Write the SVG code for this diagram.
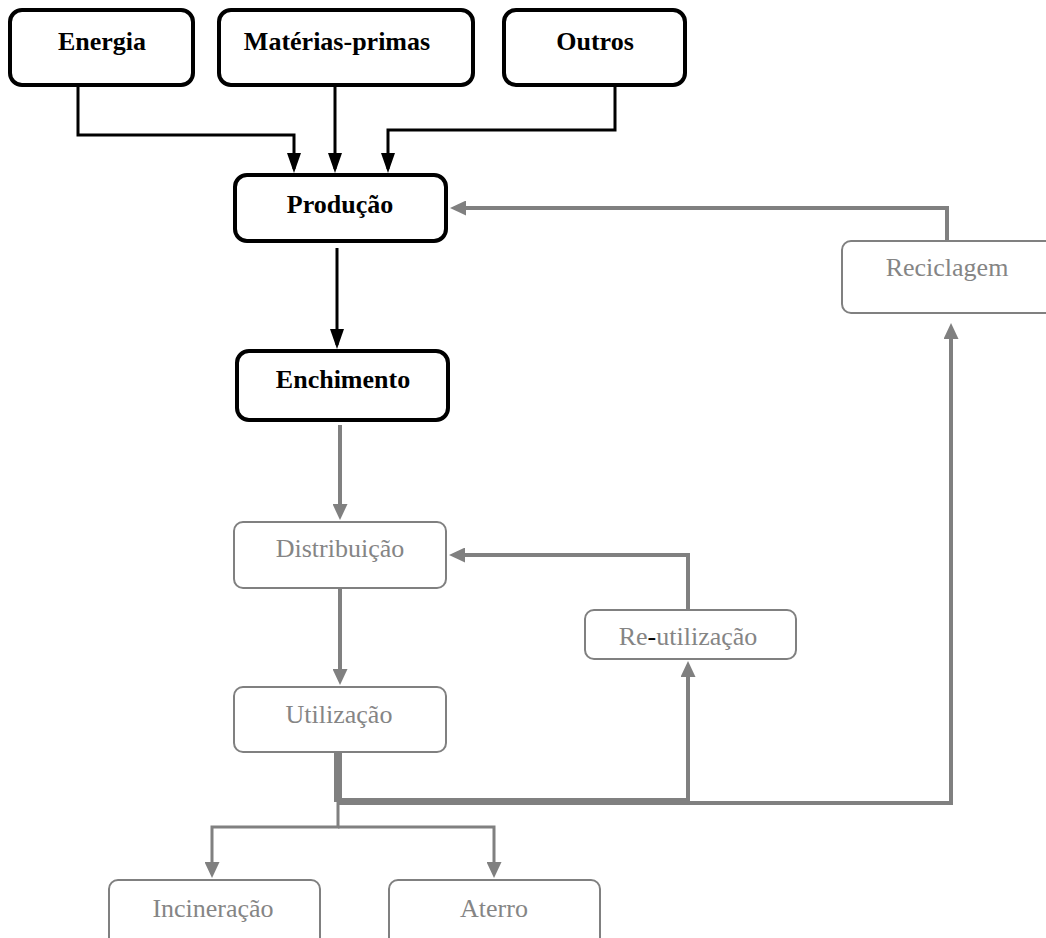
<svg xmlns="http://www.w3.org/2000/svg" width="1046" height="938" viewBox="0 0 1046 938">
<defs>
<style>
.bk{fill:#fff;stroke:#000;stroke-width:4}
.gb{fill:#fff;stroke:#808080;stroke-width:2}
.bt{font-family:"Liberation Serif","Times New Roman",serif;font-size:26px;font-weight:bold;fill:#000;text-anchor:middle}
.gt{font-family:"Liberation Serif","Times New Roman",serif;font-size:26px;fill:#858585;text-anchor:middle}
.bl{fill:none;stroke:#000;stroke-width:3}
.gl{fill:none;stroke:#808080;stroke-width:4}
.gl3{fill:none;stroke:#808080;stroke-width:3}
</style>
<marker id="ab" markerUnits="userSpaceOnUse" markerWidth="20" markerHeight="14" refX="16" refY="7" orient="auto"><path d="M0,0 L20,7 L0,14 z" fill="#000"/></marker>
<marker id="ag" markerUnits="userSpaceOnUse" markerWidth="16" markerHeight="15" refX="12" refY="7.5" orient="auto"><path d="M0,0 L16,7.5 L0,15 z" fill="#808080"/></marker>
</defs>
<g id="connectors">
<path class="bl" d="M78,87 V135 H294 V169" marker-end="url(#ab)"/>
<path class="bl" d="M335,80 V169" marker-end="url(#ab)"/>
<path class="bl" d="M615,87 V130 H388 V169" marker-end="url(#ab)"/>
<path class="bl" d="M337,248 V345" marker-end="url(#ab)"/>
<path class="gl" d="M947,240 V208 H454" marker-end="url(#ag)"/>
<path class="gl" d="M340,425 V516" marker-end="url(#ag)"/>
<path class="gl" d="M340,589 V681" marker-end="url(#ag)"/>
<path class="gl" d="M688,609 V555 H453" marker-end="url(#ag)"/>
<path class="gl" d="M336,752 V800 H688 V665" marker-end="url(#ag)"/>
<path class="gl" d="M340,752 V803 H951 V327" marker-end="url(#ag)"/>
<path class="gl3" d="M338,752 V827 H212 V874" marker-end="url(#ag)"/>
<path class="gl3" d="M338,827 H494 V874" marker-end="url(#ag)"/>
</g>
<g id="energia"><rect class="bk" x="10" y="10" width="183" height="75" rx="12"/><text class="bt" x="102" y="50">Energia</text></g>
<g id="materias"><rect class="bk" x="219" y="10" width="254" height="75" rx="12"/><text class="bt" x="337" y="50">Matérias-primas</text></g>
<g id="outros"><rect class="bk" x="504" y="10" width="181" height="75" rx="12"/><text class="bt" x="595" y="50">Outros</text></g>
<g id="producao"><rect class="bk" x="235" y="175" width="211" height="66" rx="12"/><text class="bt" x="340" y="213">Produção</text></g>
<g id="enchimento"><rect class="bk" x="237" y="351" width="211" height="69" rx="12"/><text class="bt" x="343" y="388">Enchimento</text></g>
<g id="distribuicao"><rect class="gb" x="234" y="522" width="212" height="66" rx="9"/><text class="gt" x="340" y="557">Distribuição</text></g>
<g id="utilizacao"><rect class="gb" x="234" y="687" width="212" height="65" rx="9"/><text class="gt" x="339" y="723">Utilização</text></g>
<g id="reutilizacao"><rect class="gb" x="585" y="610" width="211" height="49" rx="9"/><text class="gt" x="688" y="645">Re<tspan fill="#000">-</tspan>utilização</text></g>
<g id="reciclagem"><rect class="gb" x="842" y="241" width="212" height="72" rx="9"/><text class="gt" x="947" y="276">Reciclagem</text></g>
<g id="incineracao"><rect class="gb" x="109" y="880" width="211" height="70" rx="9"/><text class="gt" x="213" y="917">Incineração</text></g>
<g id="aterro"><rect class="gb" x="389" y="880" width="211" height="70" rx="9"/><text class="gt" x="494" y="917">Aterro</text></g>
</svg>
